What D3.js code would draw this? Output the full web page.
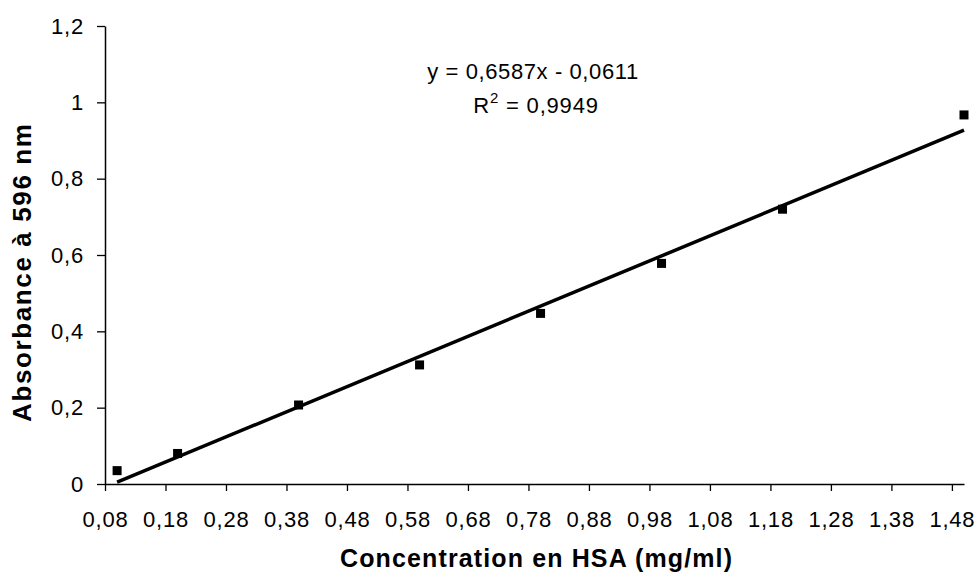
<!DOCTYPE html>
<html>
<head>
<meta charset="utf-8">
<script src="https://cdn.jsdelivr.net/npm/d3@7"></script>
<style>
  html, body { margin: 0; padding: 0; background: #fff; }
  svg { display: block; font-family: "Liberation Sans", Arial, sans-serif; }
</style>
</head>
<body>
<svg id="chart" width="978" height="580"></svg>
<script>
// Data
const concentrations = [0.1, 0.2, 0.4, 0.6, 0.8, 1.0, 1.2, 1.5];
const absorbances = [0.035, 0.08, 0.207, 0.312, 0.447, 0.578, 0.72, 0.967];
const xTicks = [0.08, 0.18, 0.28, 0.38, 0.48, 0.58, 0.68, 0.78, 0.88, 0.98, 1.08, 1.18, 1.28, 1.38, 1.48];
const yTicks = [0, 0.2, 0.4, 0.6, 0.8, 1, 1.2];
const slope = 0.6587, intercept = -0.0611;
const equationLines = ["y = 0,6587x - 0,0611", "0,9949"];

const svg = d3.select("#chart");
const locale = d3.formatLocale({decimal: ",", thousands: " ", grouping: [3], currency: ["", ""]});
const fmt2 = locale.format(".2f");
const fmtY = v => locale.format("")(+v.toFixed(1));

const x = d3.scaleLinear().domain([0.08, 1.5]).range([105, 964]);
const y = d3.scaleLinear().domain([0, 1.2]).range([484, 26]);

// Axes
const xAxis = svg.append("g")
    .attr("transform", `translate(0,${y(0)})`)
    .call(d3.axisBottom(x).tickValues(xTicks).tickFormat(fmt2).tickSize(7).tickSizeOuter(0).tickPadding(20));
const yAxis = svg.append("g")
    .attr("transform", `translate(${x(0.08)},0)`)
    .call(d3.axisLeft(y).tickValues(yTicks).tickFormat(fmtY).tickSize(8).tickSizeOuter(0).tickPadding(13));

[xAxis, yAxis].forEach(a => {
    a.select(".domain").attr("stroke", "#000").attr("stroke-width", 1.5);
    a.selectAll(".tick line").attr("stroke", "#000").attr("stroke-width", 1.3);
    a.selectAll(".tick text").attr("fill", "#000")
        .style("font-family", "'Liberation Sans', Arial, sans-serif")
        .style("font-size", "22px").style("letter-spacing", "0.8px");
});

// Trendline
const xMin = d3.min(concentrations), xMax = d3.max(concentrations);
svg.append("line")
    .attr("x1", x(xMin)).attr("y1", y(slope * xMin + intercept))
    .attr("x2", x(xMax)).attr("y2", y(slope * xMax + intercept))
    .attr("stroke", "#000").attr("stroke-width", 3.5);

// Markers
svg.append("g").selectAll("rect")
    .data(concentrations.map((c, i) => [c, absorbances[i]]))
    .join("rect")
    .attr("x", d => x(d[0]) - 4.5).attr("y", d => y(d[1]) - 4.5)
    .attr("width", 9).attr("height", 9)
    .attr("fill", "#000");

// Equation
svg.append("text")
    .attr("x", 533).attr("y", 79)
    .attr("text-anchor", "middle").style("font-size", "22px").style("letter-spacing", "0.6px")
    .text(equationLines[0]);
const r2 = svg.append("text")
    .attr("x", 536).attr("y", 113)
    .attr("text-anchor", "middle").style("font-size", "22px").style("letter-spacing", "0.8px");
r2.append("tspan").text("R");
r2.append("tspan").attr("dy", -10).style("font-size", "15px").text("2");
r2.append("tspan").attr("dy", 10).text(" = " + equationLines[1]);

// Axis titles
svg.append("text")
    .attr("x", 536).attr("y", 567)
    .attr("text-anchor", "middle")
    .attr("textLength", 392).attr("lengthAdjust", "spacing")
    .style("font-size", "25px").style("font-weight", "bold")
    .text("Concentration en HSA (mg/ml)");
svg.append("text")
    .attr("transform", "translate(31,273) rotate(-90)")
    .attr("text-anchor", "middle")
    .attr("textLength", 298).attr("lengthAdjust", "spacing")
    .style("font-size", "26px").style("font-weight", "bold")
    .text("Absorbance à 596 nm");
</script>
</body>
</html>
